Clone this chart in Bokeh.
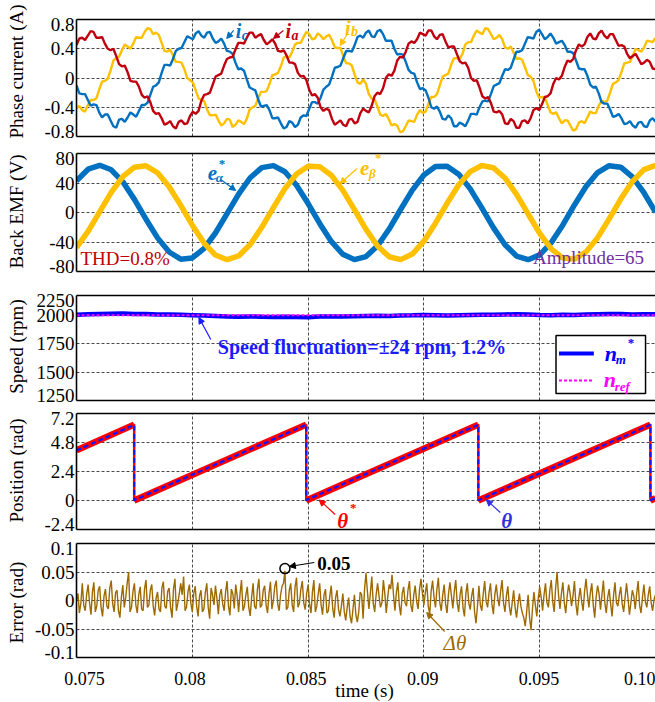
import numpy as np
from bokeh.plotting import figure
from bokeh.layouts import column, row
from bokeh.models import Range1d, FixedTicker, LinearAxis, Label, Arrow, NormalHead, BoxAnnotation
from bokeh.embed import file_html
from bokeh.resources import INLINE

FONT = "Liberation Serif"

# ---------------- shared time axis ----------------
x_ticks = [0.075, 0.08, 0.085, 0.09, 0.095, 0.1]
x_tick_labels = ["0.075", "0.08", "0.085", "0.09", "0.095", "0.10"]
x_title = "time (s)"

# ---------------- phase currents (A) ----------------
t_cur = np.linspace(0.075, 0.1, 205)
i_a = [0.45, 0.54, 0.55, 0.52, 0.58, 0.64, 0.63, 0.55, 0.55, 0.56,
       0.47, 0.40, 0.38, 0.40, 0.30, 0.19, 0.16, 0.17, 0.08, -0.04,
       -0.05, -0.05, -0.12, -0.23, -0.27, -0.25, -0.33, -0.45, -0.49, -0.48,
       -0.55, -0.64, -0.62, -0.59, -0.66, -0.69, -0.60, -0.58, -0.63, -0.62,
       -0.52, -0.46, -0.49, -0.45, -0.31, -0.23, -0.22, -0.20, -0.09, 0.02,
       0.04, 0.06, 0.17, 0.26, 0.28, 0.29, 0.39, 0.48, 0.48, 0.47,
       0.55, 0.62, 0.62, 0.55, 0.58, 0.60, 0.52, 0.46, 0.49, 0.53,
       0.47, 0.37, 0.36, 0.38, 0.31, 0.21, 0.21, 0.19, 0.07, 0.02,
       0.03, -0.03, -0.16, -0.24, -0.22, -0.27, -0.40, -0.45, -0.42, -0.44,
       -0.56, -0.64, -0.61, -0.58, -0.64, -0.66, -0.57, -0.56, -0.62, -0.60,
       -0.48, -0.42, -0.45, -0.47, -0.38, -0.25, -0.20, -0.22, -0.14, 0.00,
       0.05, 0.03, 0.10, 0.24, 0.29, 0.28, 0.36, 0.47, 0.50, 0.48,
       0.53, 0.62, 0.60, 0.58, 0.65, 0.65, 0.57, 0.53, 0.59, 0.60,
       0.50, 0.42, 0.43, 0.43, 0.33, 0.23, 0.20, 0.21, 0.14, 0.00,
       -0.04, -0.03, -0.13, -0.25, -0.28, -0.26, -0.34, -0.46, -0.47, -0.45,
       -0.50, -0.62, -0.63, -0.56, -0.59, -0.68, -0.68, -0.59, -0.58, -0.62,
       -0.55, -0.44, -0.41, -0.44, -0.36, -0.26, -0.25, -0.21, -0.08, 0.00,
       -0.02, 0.03, 0.15, 0.24, 0.22, 0.26, 0.38, 0.46, 0.43, 0.46,
       0.56, 0.61, 0.54, 0.53, 0.61, 0.65, 0.58, 0.54, 0.60, 0.60,
       0.52, 0.44, 0.45, 0.43, 0.33, 0.27, 0.30, 0.33, 0.26, 0.19,
       0.21, 0.25, 0.22, 0.13, 0.12]
i_b = [-0.42, -0.38, -0.44, -0.46, -0.37, -0.30, -0.30, -0.28, -0.16, -0.05,
       -0.04, -0.01, 0.10, 0.24, 0.27, 0.29, 0.38, 0.46, 0.43, 0.40,
       0.47, 0.56, 0.55, 0.55, 0.63, 0.68, 0.67, 0.60, 0.62, 0.59,
       0.48, 0.37, 0.36, 0.39, 0.31, 0.22, 0.22, 0.21, 0.12, 0.00,
       -0.03, -0.06, -0.17, -0.28, -0.30, -0.32, -0.43, -0.51, -0.51, -0.50,
       -0.58, -0.65, -0.62, -0.56, -0.57, -0.67, -0.64, -0.58, -0.60, -0.63,
       -0.56, -0.43, -0.40, -0.38, -0.28, -0.19, -0.19, -0.18, -0.08, 0.04,
       0.05, 0.07, 0.16, 0.28, 0.30, 0.28, 0.36, 0.46, 0.48, 0.48,
       0.56, 0.63, 0.60, 0.53, 0.54, 0.61, 0.58, 0.53, 0.57, 0.59,
       0.52, 0.42, 0.41, 0.41, 0.30, 0.20, 0.20, 0.17, 0.05, -0.06,
       -0.08, -0.02, -0.08, -0.22, -0.28, -0.29, -0.39, -0.50, -0.52, -0.49,
       -0.56, -0.65, -0.63, -0.65, -0.74, -0.73, -0.66, -0.58, -0.59, -0.60,
       -0.50, -0.44, -0.48, -0.46, -0.35, -0.26, -0.26, -0.22, -0.10, 0.02,
       0.04, 0.06, 0.18, 0.27, 0.27, 0.26, 0.33, 0.46, 0.49, 0.49,
       0.58, 0.65, 0.62, 0.60, 0.68, 0.67, 0.60, 0.53, 0.55, 0.59,
       0.53, 0.42, 0.40, 0.43, 0.35, 0.26, 0.27, 0.25, 0.15, 0.04,
       0.02, -0.04, -0.18, -0.27, -0.26, -0.27, -0.37, -0.47, -0.49, -0.47,
       -0.55, -0.62, -0.58, -0.58, -0.65, -0.72, -0.70, -0.61, -0.59, -0.62,
       -0.54, -0.46, -0.48, -0.48, -0.38, -0.31, -0.33, -0.31, -0.20, -0.08,
       -0.06, -0.03, 0.08, 0.20, 0.21, 0.22, 0.31, 0.40, 0.38, 0.36,
       0.42, 0.51, 0.50, 0.49, 0.55]
i_c = [-0.10, -0.21, -0.22, -0.22, -0.30, -0.38, -0.36, -0.37, -0.47, -0.54,
       -0.50, -0.50, -0.58, -0.66, -0.68, -0.57, -0.56, -0.60, -0.54, -0.47,
       -0.50, -0.53, -0.45, -0.37, -0.37, -0.34, -0.23, -0.12, -0.10, -0.06,
       0.07, 0.18, 0.18, 0.17, 0.26, 0.37, 0.40, 0.41, 0.49, 0.57,
       0.55, 0.53, 0.61, 0.64, 0.58, 0.55, 0.62, 0.63, 0.54, 0.48,
       0.50, 0.54, 0.47, 0.37, 0.36, 0.33, 0.21, 0.12, 0.13, 0.10,
       -0.02, -0.13, -0.15, -0.17, -0.29, -0.39, -0.38, -0.37, -0.44, -0.55,
       -0.55, -0.54, -0.62, -0.69, -0.67, -0.59, -0.61, -0.67, -0.64, -0.54,
       -0.51, -0.52, -0.42, -0.33, -0.33, -0.35, -0.27, -0.16, -0.12, -0.09,
       0.02, 0.14, 0.15, 0.17, 0.27, 0.37, 0.37, 0.36, 0.45, 0.56,
       0.58, 0.55, 0.62, 0.65, 0.57, 0.56, 0.64, 0.66, 0.60, 0.51,
       0.51, 0.51, 0.40, 0.32, 0.33, 0.32, 0.22, 0.11, 0.07, 0.06,
       -0.06, -0.15, -0.14, -0.17, -0.27, -0.40, -0.42, -0.39, -0.46, -0.56,
       -0.57, -0.51, -0.55, -0.66, -0.66, -0.61, -0.63, -0.66, -0.58, -0.49,
       -0.49, -0.50, -0.40, -0.32, -0.31, -0.32, -0.22, -0.11, -0.09, -0.07,
       0.03, 0.12, 0.11, 0.14, 0.25, 0.36, 0.36, 0.38, 0.47, 0.56,
       0.55, 0.54, 0.63, 0.66, 0.60, 0.53, 0.56, 0.61, 0.55, 0.47,
       0.49, 0.51, 0.45, 0.36, 0.36, 0.34, 0.24, 0.13, 0.12, 0.12,
       0.03, -0.09, -0.13, -0.12, -0.21, -0.33, -0.35, -0.35, -0.43, -0.53,
       -0.52, -0.49, -0.55, -0.63, -0.62, -0.59, -0.65, -0.68, -0.61, -0.60,
       -0.66, -0.67, -0.58, -0.55, -0.60]
cur_ticks = [-0.8, -0.4, 0, 0.4, 0.8]
cur_labels = ["-0.8", "-0.4", "0", "0.4", "0.8"]

# ---------------- back EMF (V) ----------------
t_emf = np.linspace(0.075, 0.1, 51)
e_alpha = [42.9, 58.7, 64.0, 57.9, 41.6, 17.8, -9.1, -34.4, -53.6, -63.3,
           -61.6, -49.1, -27.8, -1.5, 25.0, 47.1, 60.8, 63.6, 55.2, 36.9,
           12.1, -14.9, -39.2, -56.6, -63.9, -59.8, -45.1, -22.4, 4.4, 30.3,
           50.8, 62.3, 62.8, 52.0, 32.0, 6.3, -20.5, -43.7, -59.1, -64.0,
           -57.5, -40.8, -16.8, 10.2, 35.3, 54.2, 63.4, 61.4, 48.4, 26.8, 0.4]
e_beta = [-47.5, -25.6, 0.9, 27.2, 48.7, 61.5, 63.3, 53.9, 34.9, 9.7,
          -17.2, -41.1, -57.7, -64.0, -58.9, -43.4, -20.1, 6.7, 32.4, 52.3,
          62.8, 62.2, 50.6, 29.9, 3.9, -22.8, -45.4, -60.0, -63.9, -56.4,
          -38.9, -14.5, 12.5, 37.3, 55.4, 63.7, 60.6, 46.8, 24.6, -2.0,
          -28.2, -49.3, -61.8, -63.2, -53.4, -34.1, -8.7, 18.2, 41.9, 58.1, 64.0]
emf_ticks = [-80, -40, 0, 40, 80]
emf_labels = ["-80", "-40", "0", "40", "80"]

# ---------------- speed (rpm) ----------------
t_spd = np.linspace(0.075, 0.1, 51)
n_m = [2006, 2009, 2012, 2014, 2016, 2013, 2011, 2008, 2007, 2005,
       2002, 1998, 1994, 1990, 1988, 1991, 1987, 1985, 1988, 1986,
       1984, 1989, 1991, 1990, 1993, 1995, 1997, 1994, 1998, 2000,
       2003, 2001, 1999, 2002, 2004, 2006, 2005, 2008, 2010, 2007,
       2004, 2002, 2005, 2003, 2007, 2010, 2013, 2011, 2008, 2010, 2009]
t_nref = [0.075, 0.1]
n_ref = [2000, 2000]
spd_ticks = [1250, 1500, 1750, 2000, 2175]
spd_labels = ["1250", "1500", "1750", "2000", "2250"]

# ---------------- position (rad) ----------------
t_pos = [0.075, 0.07749, 0.07749, 0.08492, 0.08492, 0.09235, 0.09235, 0.09978, 0.09978, 0.1]
theta_ref = [4.15, 6.28, 0.0, 6.28, 0.0, 6.28, 0.0, 6.28, 0.0, 0.19]
theta_est = [4.13, 6.26, 0.03, 6.26, 0.03, 6.27, 0.02, 6.26, 0.03, 0.20]
pos_ticks = [-2.4, 0, 2.4, 4.8, 7.2]
pos_labels = ["-2.4", "0", "2.4", "4.8", "7.2"]

# ---------------- position error (rad) ----------------
t_err = np.linspace(0.075, 0.1, 401)
err = [0.000, 0.012, -0.022, -0.005, 0.030, -0.008, -0.018, 0.010, 0.028, -0.004,
       -0.025, 0.015, 0.032, -0.020, -0.010, 0.018, 0.025, -0.012, -0.028, 0.008,
       0.020, -0.010, -0.015, 0.022, 0.035, -0.006, -0.020, 0.014, 0.018, -0.018,
       -0.030, 0.006, 0.027, -0.012, 0.005, 0.030, 0.050, -0.020, -0.012, 0.016,
       0.030, -0.008, -0.022, 0.010, 0.024, -0.015, -0.018, 0.020, 0.036, -0.012,
       -0.008, 0.018, 0.028, -0.010, -0.026, 0.004, 0.015, -0.015, -0.020, 0.022,
       0.033, -0.010, -0.014, 0.016, 0.022, -0.012, -0.030, 0.020, 0.038, -0.018,
       -0.005, 0.012, 0.030, 0.010, 0.042, -0.018, -0.012, 0.015, 0.028, -0.005,
       -0.020, 0.012, 0.025, -0.010, -0.028, 0.008, 0.018, -0.020, -0.015, 0.014,
       0.030, -0.012, -0.032, 0.022, 0.010, -0.008, 0.026, 0.004, -0.024, 0.010,
       0.020, -0.006, -0.018, 0.015, 0.034, -0.010, -0.026, 0.020, 0.012, -0.014,
       0.028, 0.008, -0.020, 0.012, 0.036, -0.018, -0.010, 0.010, 0.024, -0.012,
       -0.027, 0.006, 0.030, -0.010, -0.015, 0.020, 0.038, -0.012, -0.008, 0.018,
       0.026, -0.008, -0.022, 0.012, 0.033, -0.015, 0.000, 0.025, 0.035, -0.006,
       -0.018, 0.010, 0.025, 0.030, 0.052, -0.016, -0.012, 0.018, 0.030, -0.008,
       -0.020, 0.024, 0.040, -0.012, -0.005, 0.020, 0.034, -0.004, -0.016, 0.012,
       0.028, -0.006, -0.022, 0.015, 0.036, -0.020, -0.010, 0.012, 0.030, -0.008,
       -0.025, 0.010, 0.020, -0.022, -0.018, 0.008, 0.026, -0.014, -0.030, 0.005,
       0.018, -0.015, -0.028, -0.010, 0.012, -0.020, -0.035, -0.012, 0.005, -0.028,
       -0.040, -0.015, 0.010, -0.025, -0.038, -0.020, 0.015, 0.010, -0.032, 0.020,
       0.048, 0.015, -0.015, 0.012, 0.042, -0.005, -0.020, 0.010, 0.030, 0.008,
       -0.012, -0.004, 0.036, 0.012, -0.022, 0.006, 0.028, 0.020, 0.045, 0.010,
       -0.018, 0.014, 0.032, -0.008, -0.026, 0.012, 0.024, -0.004, -0.010, 0.018,
       0.034, -0.008, -0.020, 0.010, 0.026, -0.002, -0.015, 0.020, 0.038, 0.012,
       -0.008, 0.014, 0.030, -0.010, -0.024, 0.016, 0.035, 0.006, -0.012, 0.020,
       0.040, -0.004, -0.018, 0.010, 0.028, -0.006, -0.022, 0.012, 0.032, 0.008,
       -0.014, 0.016, 0.036, -0.004, -0.020, 0.010, 0.025, -0.012, -0.028, 0.012,
       0.030, -0.004, -0.016, 0.008, 0.022, -0.020, -0.040, -0.010, 0.026, -0.008,
       -0.018, 0.012, 0.034, -0.002, -0.012, 0.014, 0.030, -0.006, -0.024, 0.010,
       0.028, 0.004, -0.010, 0.016, 0.036, -0.004, -0.020, 0.008, 0.025, -0.010,
       -0.026, -0.004, 0.018, -0.012, -0.030, -0.006, 0.012, -0.010, -0.022, -0.030,
       -0.045, -0.020, 0.010, -0.030, -0.052, -0.015, 0.015, -0.008, -0.028, 0.004,
       0.024, 0.006, -0.018, 0.010, 0.030, -0.004, -0.012, 0.018, 0.036, -0.002,
       -0.020, 0.022, 0.050, 0.010, -0.015, 0.012, 0.032, -0.004, -0.022, 0.008,
       0.028, 0.012, -0.010, 0.008, 0.034, -0.006, -0.026, 0.004, 0.022, -0.002,
       -0.018, 0.016, 0.038, 0.010, -0.012, 0.014, 0.030, -0.008, -0.030, 0.006,
       0.026, 0.012, -0.016, 0.010, 0.035, -0.004, -0.022, 0.006, 0.020, -0.006,
       -0.028, 0.008, 0.032, -0.004, -0.010, 0.010, 0.024, -0.006, -0.020, 0.006,
       0.030, 0.004, -0.025, -0.004, 0.018, 0.008, -0.015, 0.012, 0.034, -0.008,
       -0.022, 0.006, 0.028, -0.002, -0.012, 0.010, 0.025, -0.004, -0.018, 0.002,
       0.010]
err_ticks = [-0.1, -0.05, 0, 0.05, 0.1]
err_labels = ["-0.1", "-0.05", "0", "0.05", "0.1"]

# ---------------- colours ----------------
RED = "#C0000F"
YEL = "#FFC000"
BLU = "#0070C0"
BROWN = "#9E6A00"

TOTAL_W = 655
TOTAL_H = 702
TITLE_W = 31          # width of the strip holding the rotated y titles
PANEL_W = TOTAL_W - TITLE_W
LEFT = 42             # left border inside each panel (tick labels)
FRAME_W = PANEL_W - LEFT
EDGE_NUDGE = 5        # px: end labels sit just inside the frame, as in the original

xr = Range1d(0.075, 0.1)


def make_fig(height, top, bottom, yr, yticks, ylabels):
    p = figure(width=PANEL_W, height=height, x_range=xr, y_range=Range1d(*yr),
               output_backend="svg", toolbar_location=None,
               min_border_left=LEFT, min_border_right=0,
               min_border_top=top, min_border_bottom=bottom)
    p.outline_line_color = None
    p.background_fill_color = "white"
    p.border_fill_color = "white"
    xa = p.xaxis[0]
    ya = p.yaxis[0]
    xa.ticker = FixedTicker(ticks=[])
    # end labels are nudged a few pixels inside the frame (the frame edge itself
    # is drawn by the axis lines, so no grid line is needed there)
    d = EDGE_NUDGE * (yr[1] - yr[0]) / (height - top - bottom)
    label_pos = [yticks[0] + d] + list(yticks[1:-1]) + [yticks[-1] - d]
    ya.ticker = FixedTicker(ticks=label_pos)
    ya.major_label_overrides = dict(zip(label_pos, ylabels))
    for ax in (xa, ya):
        ax.axis_line_color = "black"
        ax.axis_line_width = 1.6
        ax.major_tick_in = 0
        ax.major_tick_out = 0
        ax.minor_tick_in = 0
        ax.minor_tick_out = 0
        ax.major_label_text_font = FONT
        ax.major_label_text_color = "black"
    ya.major_label_text_font_size = "19px"
    ya.major_label_standoff = 2
    xa.major_label_standoff = 0
    top_ax = LinearAxis(ticker=FixedTicker(ticks=[]),
                        major_tick_in=0, major_tick_out=0, minor_tick_in=0, minor_tick_out=0,
                        major_label_standoff=0, axis_line_color="black", axis_line_width=1.6)
    p.add_layout(top_ax, "above")
    p.xgrid[0].ticker = FixedTicker(ticks=x_ticks)
    p.ygrid[0].ticker = FixedTicker(ticks=list(yticks[1:-1]))
    for g in (p.xgrid[0], p.ygrid[0]):
        g.grid_line_color = "#4a4a4a"
        g.grid_line_dash = "3 2"
        g.grid_line_width = 1
    return p


def txt(p, x, y, s, color, size, style="normal", align="left", baseline="middle", angle=0.0):
    p.add_layout(Label(x=x, y=y, text=s, text_color=color, text_font=FONT,
                       text_font_size=f"{size}px", text_font_style=style,
                       text_align=align, text_baseline=baseline, angle=angle))


def arrow(p, x0, y0, x1, y1, color, w=1.2, head=6):
    p.add_layout(Arrow(end=NormalHead(size=head, fill_color=color, line_color=color, line_width=1),
                       x_start=x0, y_start=y0, x_end=x1, y_end=y1,
                       line_color=color, line_width=w))


# panel heights (top border + frame + bottom border)
H1, H2, H3, H4, H5 = 145, 137, 125, 129, 129

# ================= panel 1: phase currents =================
p1 = make_fig(H1, 19, 9, (-0.8, 0.8), cur_ticks, cur_labels)
p1.line(t_cur, i_b, line_color=YEL, line_width=2.4)
p1.line(t_cur, i_c, line_color=BLU, line_width=2.4)
p1.line(t_cur, i_a, line_color=RED, line_width=2.4)
txt(p1, 0.081873, 0.636, "i", BLU, 20, "bold italic")
txt(p1, 0.082131, 0.585, "c", BLU, 14, "bold italic")
arrow(p1, 0.081787, 0.650, 0.081486, 0.540, BLU)
txt(p1, 0.084021, 0.636, "i", RED, 20, "bold italic")
txt(p1, 0.084278, 0.585, "a", RED, 14, "bold italic")
arrow(p1, 0.083935, 0.650, 0.083505, 0.540, RED)
txt(p1, 0.086598, 0.690, "i", YEL, 20, "bold italic")
txt(p1, 0.086856, 0.630, "b", YEL, 14, "bold italic")
arrow(p1, 0.086684, 0.595, 0.086383, 0.444, YEL)

# ================= panel 2: back EMF =================
p2 = make_fig(H2, 8, 11, (-80, 80), emf_ticks, emf_labels)
p2.line(t_emf, e_alpha, line_color=BLU, line_width=5.5)
p2.line(t_emf, e_beta, line_color=YEL, line_width=5.5)
txt(p2, 0.080670, 54.2, "e", BLU, 21, "bold italic")
txt(p2, 0.081014, 47.0, "α", BLU, 13, "bold italic")
txt(p2, 0.081143, 67.0, "*", BLU, 13, "bold")
arrow(p2, 0.081229, 44.7, 0.081873, 29.8, BLU)
txt(p2, 0.087242, 61.0, "e", YEL, 21, "bold italic")
txt(p2, 0.087629, 53.5, "β", YEL, 13, "bold italic")
txt(p2, 0.087887, 74.0, "*", YEL, 13, "bold")
arrow(p2, 0.087113, 59.7, 0.086383, 39.3, YEL)
txt(p2, 0.075172, -62.4, "THD=0.8%", "#C00000", 19)
txt(p2, 0.094716, -61.0, "Amplitude=65", "#7030A0", 19)

# ================= panel 3: speed =================
p3 = make_fig(H3, 13, 7, (1250, 2175), spd_ticks, spd_labels)
p3.line(t_spd, n_m, line_color="#0000FF", line_width=4.5)
p3.line(t_nref, n_ref, line_color="#FF00FF", line_width=2, line_dash="3 2")
txt(p3, 0.081100, 1717, "Speed fluctuation=\u00b124 rpm, 1.2%", "#1A1AFF", 20, "bold")
arrow(p3, 0.080799, 1787, 0.080284, 1981, "#1A1AFF")
p3.add_layout(BoxAnnotation(left=0.095704, right=0.099570, top=1823, bottom=1312,
                            fill_color="white", fill_alpha=1.0, line_color="black",
                            line_width=1.5, line_alpha=1.0))
p3.add_layout(Arrow(end=None, x_start=0.095833, y_start=1664, x_end=0.097337, y_end=1664,
                    line_color="#0000FF", line_width=4))
p3.add_layout(Arrow(end=None, x_start=0.095833, y_start=1426, x_end=0.097337, y_end=1426,
                    line_color="#FF00FF", line_width=2, line_dash="3 2"))
txt(p3, 0.097809, 1664, "n", "#0000FF", 22, "bold italic")
txt(p3, 0.098282, 1615, "m", "#0000FF", 13, "bold italic")
txt(p3, 0.098797, 1760, "*", "#0000FF", 13, "bold")
txt(p3, 0.097766, 1435, "n", "#FF00FF", 22, "bold italic")
txt(p3, 0.098239, 1375, "ref", "#FF00FF", 13, "bold italic")

# ================= panel 4: position =================
p4 = make_fig(H4, 6, 7, (-2.4, 7.2), pos_ticks, pos_labels)
p4.line(t_pos, theta_ref, line_color="#FF0000", line_width=2.5)
ramp_x = [t_pos[i:i + 2] for i in range(0, len(t_pos), 2)]
ramp_y = [theta_ref[i:i + 2] for i in range(0, len(theta_ref), 2)]
p4.multi_line(ramp_x, ramp_y, line_color="#FF0000", line_width=6.5)
p4.line(t_pos, theta_est, line_color="#1515FF", line_width=2.2, line_dash="5 3")
txt(p4, 0.086254, -1.66, "θ", "#FF0000", 21, "bold italic")
txt(p4, 0.086813, -0.62, "*", "#FF0000", 13, "bold")
arrow(p4, 0.086168, -1.16, 0.085481, 0.05, "#FF0000")
txt(p4, 0.093342, -1.66, "θ", "#3030E0", 21, "bold italic")
arrow(p4, 0.093299, -0.99, 0.092698, 0.05, "#3030E0")

# ================= panel 5: error =================
p5 = make_fig(H5, 7, 8, (-0.1, 0.1), err_ticks, err_labels)
p5.line(t_err, err, line_color=BROWN, line_width=1.4)
imax = int(np.argmax(err))
p5.scatter([t_err[imax]], [err[imax] + 0.004], marker="circle", size=10,
           fill_color=None, line_color="black", line_width=1.5)
txt(p5, 0.085395, 0.0649, "0.05", "black", 19, "bold")
arrow(p5, 0.085266, 0.0667, 0.084192, 0.0596, "black")
txt(p5, 0.090851, -0.0754, "Δθ", BROWN, 21, "italic")
arrow(p5, 0.090894, -0.0544, 0.090120, -0.0211, BROWN)

# ================= time axis labels strip =================
STRIP_H = TOTAL_H - (H1 + H2 + H3 + H4 + H5)
px_per_s = FRAME_W / (0.1 - 0.075)
strip = figure(width=PANEL_W, height=STRIP_H,
               x_range=Range1d(0.075 - LEFT / px_per_s, 0.1), y_range=Range1d(STRIP_H, 0),
               output_backend="svg", toolbar_location=None,
               min_border_left=0, min_border_right=0, min_border_top=0, min_border_bottom=0,
               x_axis_location=None, y_axis_location=None)
strip.frame_align = False
strip.grid.visible = False
strip.outline_line_color = None
strip.border_fill_color = "white"
for k, (tv, tl) in enumerate(zip(x_ticks, x_tick_labels)):
    if k == 0:
        strip.add_layout(Label(x=tv, y=12.5, x_offset=11, text=tl, text_font=FONT, text_font_size="18px",
                               text_align="center", text_baseline="middle", text_color="black"))
    elif k == len(x_ticks) - 1:
        strip.add_layout(Label(x=tv, y=12.5, text=tl, text_font=FONT, text_font_size="18px",
                               text_align="right", text_baseline="middle", text_color="black"))
    else:
        strip.add_layout(Label(x=tv, y=12.5, text=tl, text_font=FONT, text_font_size="18px",
                               text_align="center", text_baseline="middle", text_color="black"))
strip.add_layout(Label(x=0.0875, y=25, text=x_title, text_font=FONT, text_font_size="19px",
                       text_align="center", text_baseline="middle", text_color="black"))

# ================= y titles strip =================
y_titles = ["Phase current (A)", "Back EMF (V)", "Speed (rpm)", "Position (rad)", "Error (rad)"]
title_y = [71, 211, 346, 470, 602]   # vertical centre of each title, px from top
tfig = figure(width=TITLE_W, height=TOTAL_H, x_range=Range1d(0, TITLE_W), y_range=Range1d(TOTAL_H, 0),
              output_backend="svg", toolbar_location=None,
              min_border_left=0, min_border_right=0, min_border_top=0, min_border_bottom=0,
              x_axis_location=None, y_axis_location=None)
tfig.frame_align = False
tfig.grid.visible = False
tfig.outline_line_color = None
tfig.border_fill_color = "white"
for s, yy in zip(y_titles, title_y):
    tfig.add_layout(Label(x=16, y=yy, text=s, text_font=FONT, text_font_size="19px",
                          text_align="center", text_baseline="middle", angle=np.pi / 2,
                          text_color="black"))

layout = row(tfig, column(p1, p2, p3, p4, p5, strip, spacing=0), spacing=0)
open("out.html", "w").write(file_html(layout, INLINE))
